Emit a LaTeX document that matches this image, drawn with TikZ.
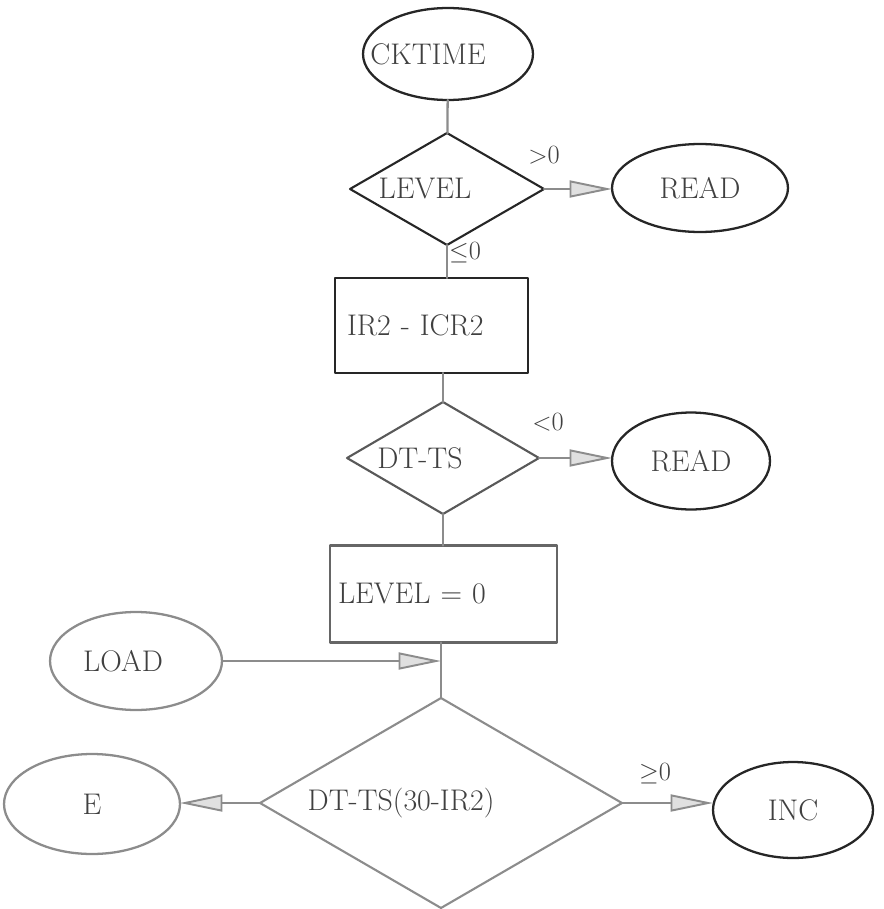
\documentclass[tikz,border=0pt]{standalone}
\usepackage{amsmath,amssymb}
\usepackage{fontspec}
\usepackage{xcolor}
\usepackage{tikz}
\usetikzlibrary{arrows.meta,shapes.geometric}
\colorlet{inkdark}{black!85}
\colorlet{inksoft}{black!45}
\colorlet{inktext}{black!75}
\tikzset{
  txt/.style={font=\fontsize{17}{20}\selectfont\addfontfeature{LetterSpace=5}, text=inktext},
  term/.style={ellipse, draw=inkdark, line width=1.3pt, inner sep=0pt, outer sep=0pt, txt},
  test/.style={diamond, draw=inkdark, line width=1.2pt, inner sep=0pt, outer sep=0pt},
  proc/.style={rectangle, draw=inkdark, line width=1.2pt, inner ysep=0pt, outer sep=0pt, align=left, txt},
  cond/.style={font=\fontsize{15}{17}\selectfont, text=inktext, inner sep=1pt},
  flow/.style={draw=inksoft, line width=1.3pt},
  flowto/.style={flow, -{Triangle[length=0.85cm, width=0.34cm, line width=1.1pt, fill=black!12]}},
  every picture/.style={line cap=round, line join=round}
}

\begin{document}
\begin{tikzpicture}[x=0.02cm, y=-0.02cm]
  \useasboundingbox (0,0) rectangle (883,909);

  % terminals
  \node[term, minimum width=3.4cm, minimum height=1.84cm,
        label={[txt, xshift=-0.4cm]center:CKTIME}] (ck) at (448,54) {};
  \node[term, minimum width=3.52cm, minimum height=1.76cm] (rd1) at (700,188) {READ};
  \node[term, minimum width=3.16cm, minimum height=1.94cm] (rd2) at (691,461) {READ};
  \node[term, draw=inksoft, minimum width=3.44cm, minimum height=1.96cm,
        label={[txt, xshift=-0.26cm]center:LOAD}] (ld) at (136,661) {};
  \node[term, draw=inksoft, minimum width=3.52cm, minimum height=2.0cm] (ee) at (92,804) {E};
  \node[term, minimum width=3.2cm, minimum height=1.92cm] (inc) at (793,810) {INC};

  % tests
  \node[test, minimum width=3.88cm, minimum height=2.24cm,
        label={[txt, xshift=-0.44cm]center:LEVEL}] (lvl) at (447,189) {};
  \node[test, draw=black!65, minimum width=3.84cm, minimum height=2.24cm,
        label={[txt, xshift=-0.46cm]center:DT-TS}] (dts) at (443,458) {};
  \node[test, draw=inksoft, minimum width=7.24cm, minimum height=4.2cm,
        label={[txt, xshift=-0.8cm]center:DT-TS(30-IR2)}] (dec) at (441,803) {};

  % boxes
  \node[proc, inner xsep=0.24cm, text width=3.38cm, minimum height=1.9cm] (ir) at (431.5,325.5) {IR2 - ICR2};
  \node[proc, draw=black!60, inner xsep=0.16cm, text width=4.22cm, minimum height=1.94cm] (lv0) at (443.5,594) {LEVEL = 0};

  % flow lines
  \draw[flow] (ck) -- (lvl);
  \draw[flowto] (lvl.east) -- (lvl.east -| rd1.west);
  \draw[flow] (lvl.south) -- (lvl.south |- ir.north);
  \draw[flow] (dts.north |- ir.south) -- (dts.north);
  \draw[flowto] (dts.east) -- (dts.east -| rd2.west);
  \draw[flow] (dts.south) -- (dts.south |- lv0.north);
  \draw[flow] (lv0.south -| dec.north) -- (dec.north);
  \coordinate (join) at (dec.north |- ld.east);
  \draw[flowto] (ld.east) -- (join);
  \draw[flowto] (dec.west) -- (dec.west -| ee.east);
  \draw[flowto] (dec.east) -- (dec.east -| inc.west);

  % branch labels
  \node[cond] (gt) at (544,155) {$>$0};
  \node[cond] (le) at (465,253) {$\leq$0};
  \node[cond] (lt) at (548,422) {$<$0};
  \node[cond] (ge) at (655,773) {$\geq$0};
\end{tikzpicture}
\end{document}
